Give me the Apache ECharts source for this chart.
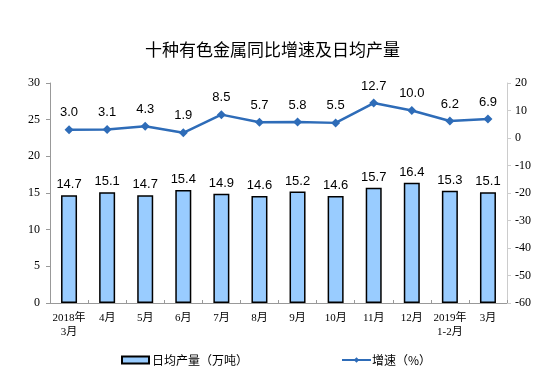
<!DOCTYPE html>
<html>
<head>
<meta charset="utf-8">
<script src="https://cdn.jsdelivr.net/npm/echarts@6/dist/echarts.min.js"></script>
<style>
  html, body { margin: 0; padding: 0; background: #fff; }
  #chart { width: 545px; height: 377px; }
</style>
</head>
<body>
<div id="chart"></div>
<script>
var categories = ["2018年\n3月", "4月", "5月", "6月", "7月", "8月", "9月", "10月", "11月", "12月", "2019年\n1-2月", "3月"];
var output = [14.7, 15.1, 14.7, 15.4, 14.9, 14.6, 15.2, 14.6, 15.7, 16.4, 15.3, 15.1];
var growth = [3.0, 3.1, 4.3, 1.9, 8.5, 5.7, 5.8, 5.5, 12.7, 10.0, 6.2, 6.9];

var serif = "'Liberation Serif', 'Noto Sans CJK SC', serif";
var sans = "'Liberation Sans', Arial, 'Noto Sans CJK SC', sans-serif";
var cjk = "'Noto Sans CJK SC', sans-serif";

var myChart = echarts.init(document.getElementById("chart"), null, { renderer: "canvas" });
var option = {
  animation: false,
  title: {
    text: "十种有色金属同比增速及日均产量",
    left: "center",
    top: 36,
    textStyle: { fontSize: 17, fontWeight: "normal", color: "#000", fontFamily: cjk },
  },
  legend: [
    {
      data: [{ name: "日均产量（万吨）", icon: "rect" }],
      left: 116,
      top: 349,
      itemWidth: 27,
      itemHeight: 7,
      textStyle: { fontSize: 12, color: "#000", fontFamily: cjk, padding: [0, 0, 0, -2] },
    },
    {
      data: ["增速（%）"],
      left: 336,
      top: 349,
      itemWidth: 29,
      itemHeight: 7,
      textStyle: { fontSize: 12, color: "#000", fontFamily: cjk, padding: [0, 0, 0, -4] },
    },
  ],
  grid: { left: 50, right: 38, top: 83, bottom: 74 },
  xAxis: {
    type: "category",
    data: categories,
    axisLine: { lineStyle: { color: "#999" } },
    axisTick: { show: true, inside: true, length: 3, lineStyle: { color: "#999" } },
    axisLabel: { color: "#000", fontSize: 11, fontFamily: serif, interval: 0, margin: 8, lineHeight: 14 },
  },
  yAxis: [
    {
      type: "value",
      min: 0,
      max: 30,
      interval: 5,
      splitLine: { show: false },
      axisLine: { show: true, lineStyle: { color: "#999" } },
      axisTick: { show: true, length: 4, lineStyle: { color: "#999" } },
      axisLabel: { color: "#000", fontSize: 12, fontFamily: serif, margin: 10 },
    },
    {
      type: "value",
      min: -60,
      max: 20,
      interval: 10,
      splitLine: { show: false },
      axisLine: { show: true, lineStyle: { color: "#ccc" } },
      axisTick: { show: true, length: 4, lineStyle: { color: "#ccc" } },
      axisLabel: { color: "#000", fontSize: 12, fontFamily: serif, margin: 8 },
    },
  ],
  series: [
    {
      name: "日均产量（万吨）",
      type: "bar",
      data: output,
      barWidth: 16,
      itemStyle: { color: "#99CCFF", borderColor: "#000", borderWidth: 1.5 },
      label: {
        show: true,
        position: "top",
        distance: 4,
        color: "#000",
        fontSize: 13,
        fontFamily: sans,
        formatter: function (p) { return p.value.toFixed(1); },
      },
    },
    {
      name: "增速（%）",
      type: "line",
      yAxisIndex: 1,
      data: growth,
      symbol: "diamond",
      symbolSize: 9,
      lineStyle: { color: "#2E6CB8", width: 2.5 },
      itemStyle: { color: "#2E6CB8" },
      label: {
        show: true,
        position: "top",
        distance: 6,
        color: "#000",
        fontSize: 13,
        fontFamily: sans,
        formatter: function (p) { return p.value.toFixed(1); },
      },
    },
  ],
};
myChart.setOption(option);
</script>
</body>
</html>
